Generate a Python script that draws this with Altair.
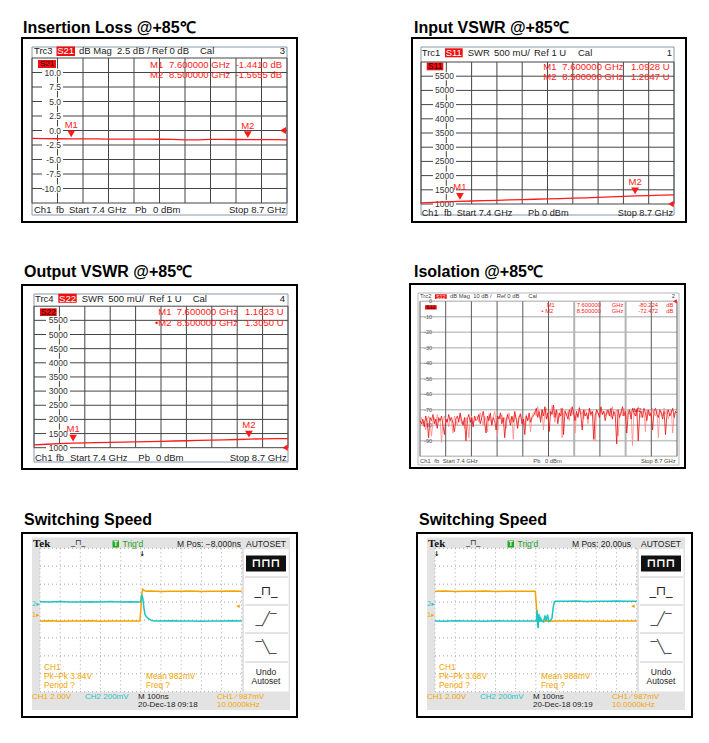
import altair as alt
import pandas as pd

O = 8            # page margin: page px -> chart px
W, H = 692, 726
F = "Liberation Sans"
RED = "#ff1a1a"
ORANGE = "#f4a300"
CYAN = "#1cc4c4"
TS = 9.5         # analyzer text size
LS = 8.5         # analyzer scale-label size

# ---------------- data ----------------
sweep_freq = [7.400, 7.465, 7.530, 7.595, 7.660, 7.725, 7.790, 7.855, 7.920, 7.985, 8.050,
              8.115, 8.180, 8.245, 8.310, 8.375, 8.440, 8.505, 8.570, 8.635, 8.700]
il_db = [-1.36, -1.39, -1.42, -1.44, -1.45, -1.46, -1.47, -1.48, -1.49, -1.50, -1.51,
         -1.52, -1.62, -1.60, -1.53, -1.54, -1.55, -1.57, -1.58, -1.59, -1.60]
in_swr_mu = [1040, 1058, 1075, 1092, 1105, 1118, 1130, 1142, 1155, 1168, 1180,
             1192, 1205, 1218, 1232, 1248, 1266, 1285, 1298, 1310, 1322]
out_swr_mu = [1098, 1122, 1142, 1162, 1172, 1181, 1190, 1199, 1208, 1218, 1227,
              1236, 1246, 1256, 1266, 1277, 1290, 1305, 1312, 1318, 1324]

marker_names = ["M1", "M2"]
marker_freq = [7.6, 8.5]
il_marker_db = [-1.4410, -1.5655]
in_marker_mu = [1092.8, 1284.7]
out_marker_mu = [1162.3, 1305.0]
iso_marker_db = [-80.224, -72.472]

il_ticks = [10.0, 7.5, 5.0, 2.5, 0.0, -2.5, -5.0, -7.5, -10.0]
il_grid = [-12.5, -10.0, -7.5, -5.0, -2.5, 0.0, 2.5, 5.0, 7.5, 10.0, 12.5]
swr_ticks = [1000, 1500, 2000, 2500, 3000, 3500, 4000, 4500, 5000, 5500]
swr_grid = [1000, 1500, 2000, 2500, 3000, 3500, 4000, 4500, 5000, 5500, 6000]
iso_ticks = [0, -10, -20, -30, -40, -50, -60, -70, -80, -90]
iso_grid = [0, -10, -20, -30, -40, -50, -60, -70, -80, -90, -100]
freq_grid = [7.40, 7.53, 7.66, 7.79, 7.92, 8.05, 8.18, 8.31, 8.44, 8.57, 8.70]

iso_db = [
    -77, -79, -76, -81, -74, -78, -88, -75, -77, -73, -79, -76, -82, -75, -77, -74, -80, -86, -76, -78,
    -73, -77, -75, -79, -84, -76, -74, -78, -72, -77, -80, -75, -90, -76, -73, -78, -75, -81, -74, -77,
    -76, -73, -79, -75, -71, -78, -85, -74, -77, -72, -80, -75, -77, -83, -74, -76, -72, -79, -75, -88,
    -77, -73, -76, -80, -74, -78, -71, -76, -82, -75, -73, -79, -76, -86, -74, -77, -72, -78, -75, -74,
    -72, -69, -75, -71, -78, -70, -74, -68, -76, -72, -84, -71, -73, -67, -75, -70, -79, -72, -74, -69,
    -86, -71, -73, -76, -70, -74, -68, -72, -77, -71, -75, -69, -73, -83, -70, -74, -72, -76, -69, -73,
    -71, -89, -74, -70, -72, -75, -68, -73, -71, -77, -72, -70, -74, -69, -76, -71, -73, -92, -70, -75,
    -72, -68, -74, -71, -85, -73, -70, -76, -69, -72, -74, -70, -90, -73, -71, -75, -69, -72, -77, -70,
    -74, -72, -83, -71, -69, -73, -75, -70, -72, -76, -71, -86, -73, -70, -74, -72, -69, -75, -71, -72]
iso_db_mem = [
    -78, -75, -80, -77, -83, -76, -74, -79, -87, -77, -75, -80, -73, -78, -76, -91, -77, -74, -79, -76,
    -81, -75, -78, -85, -74, -77, -80, -76, -73, -79, -77, -82, -75, -78, -88, -76, -74, -79, -77, -75,
    -74, -78, -72, -76, -80, -74, -77, -84, -73, -76, -79, -75, -71, -77, -87, -74, -76, -73, -78, -75,
    -82, -74, -72, -77, -75, -89, -73, -76, -79, -74, -72, -78, -75, -80, -73, -77, -75, -84, -74, -72,
    -71, -74, -68, -73, -76, -70, -83, -72, -69, -75, -71, -74, -67, -73, -78, -70, -72, -75, -69, -88,
    -72, -70, -74, -71, -77, -69, -73, -70, -85, -72, -74, -68, -73, -71, -76, -70, -72, -79, -69, -74,
    -71, -73, -90, -70, -72, -75, -69, -73, -71, -74, -70, -73, -71, -75, -68, -74, -72, -70, -87, -73,
    -71, -74, -69, -72, -76, -70, -73, -71, -93, -72, -70, -74, -68, -73, -75, -71, -72, -84, -70, -73,
    -71, -75, -69, -72, -74, -70, -88, -72, -71, -74, -69, -73, -70, -76, -72, -70, -85, -73, -71, -72]
iso_freq = [7.4 + i * 1.3 / (len(iso_db) - 1) for i in range(len(iso_db))]

scope_time_grid = [-500, -400, -300, -200, -100, 0, 100, 200, 300, 400, 500]
scope_div_grid = [-4, -3, -2, -1, 0, 1, 2, 3, 4]

# left scope (ns, divisions)
s1_ch1_t = [-500, -450, -400, -350, -300, -250, -200, -150, -100, -50, -5, 0, 5, 10, 15, 25, 50,
            100, 150, 200, 250, 300, 350, 400, 450, 500]
s1_ch1_v = [-0.06, -0.04, -0.07, -0.05, -0.06, -0.04, -0.07, -0.05, -0.06, -0.05, -0.05, 0.6, 1.5,
            1.72, 1.66, 1.60, 1.62, 1.59, 1.61, 1.60, 1.62, 1.59, 1.61, 1.60, 1.62, 1.60]
s1_ch2_t = [-500, -450, -400, -350, -300, -250, -200, -150, -100, -50, -3, 0, 4, 10, 16, 21, 30,
            40, 54, 70, 100, 150, 200, 250, 300, 350, 400, 450, 500]
s1_ch2_v = [1.02, 1.00, 1.03, 1.01, 1.00, 1.02, 1.01, 1.03, 1.00, 1.02, 1.01, 1.10, 1.42, 1.20,
            0.60, 0.28, 0.15, 0.06, -0.03, -0.05, -0.06, -0.04, -0.06, -0.05, -0.07, -0.05, -0.06,
            -0.04, -0.05]
# right scope
s2_ch1_t = [-500, -450, -400, -350, -300, -250, -200, -150, -100, -50, -3, 2, 6, 10, 25, 50,
            100, 150, 200, 250, 300, 350, 400, 450, 500]
s2_ch1_v = [1.60, 1.62, 1.59, 1.61, 1.60, 1.62, 1.59, 1.61, 1.60, 1.61, 1.60, 0.9, 0.1, -0.06,
            -0.05, -0.07, -0.05, -0.06, -0.04, -0.06, -0.05, -0.07, -0.05, -0.06, -0.05]
s2_ch2_t = [-500, -450, -400, -350, -300, -250, -200, -150, -100, -50, 3, 6, 9, 12, 15, 19, 24,
            30, 38, 45, 50, 58, 64, 72, 80, 86, 92, 100, 150, 200, 250, 300, 350, 400, 450, 500]
s2_ch2_v = [-0.05, -0.07, -0.04, -0.06, -0.05, -0.07, -0.04, -0.06, -0.05, -0.06, -0.05, 0.55,
            -0.30, -0.45, 0.35, -0.10, 0.10, -0.05, -0.10, 0.25, -0.05, 0.30, -0.08, -0.02, 0.10,
            0.70, 1.02, 1.05, 1.04, 1.06, 1.03, 1.05, 1.04, 1.06, 1.04, 1.05]

# ---------------- helpers ----------------
one = pd.DataFrame({"_": [0]})


def T(s, x, y, size=9.0, color="#000", weight="normal", align="left", font=F):
    return alt.Chart(one).mark_text(text=s, align=align, baseline="middle", fontSize=size,
                                    color=color, fontWeight=weight, font=font).encode(
        x=alt.value(x - O), y=alt.value(y - O))


def R(x1, y1, x2, y2, fill="white", stroke=None, sw=1.0):
    kw = dict(fill=fill, strokeWidth=sw if stroke else 0)
    if stroke:
        kw["stroke"] = stroke
    return alt.Chart(one).mark_rect(**kw).encode(
        x=alt.value(x1 - O), x2=alt.value(x2 - O), y=alt.value(y1 - O), y2=alt.value(y2 - O))


def HR(x1, x2, y, color="#c8c8c8", sw=1.0):
    return alt.Chart(one).mark_rule(color=color, strokeWidth=sw).encode(
        x=alt.value(x1 - O), x2=alt.value(x2 - O), y=alt.value(y - O))


def XS(d, a, b):
    return alt.Scale(domain=d, range=[a - O, b - O], nice=False, zero=False)


def YS(d, bottom, top):
    return alt.Scale(domain=d, range=[bottom - O, top - O], nice=False, zero=False)


def vgrid(xs, vals, top, bot, color, sw=1.0, dash=None):
    kw = dict(color=color, strokeWidth=sw)
    if dash:
        kw["strokeDash"] = dash
    return alt.Chart(pd.DataFrame({"f": vals})).mark_rule(**kw).encode(
        x=alt.X("f:Q", scale=xs, axis=None), y=alt.value(top - O), y2=alt.value(bot - O))


def hgrid(ys, vals, left, right, color, sw=1.0, dash=None):
    kw = dict(color=color, strokeWidth=sw)
    if dash:
        kw["strokeDash"] = dash
    return alt.Chart(pd.DataFrame({"v": vals})).mark_rule(**kw).encode(
        y=alt.Y("v:Q", scale=ys, axis=None), x=alt.value(left - O), x2=alt.value(right - O))


def ylabels(ys, vals, labels, xr, size, color, halo=None):
    out = []
    df = pd.DataFrame({"v": vals, "t": labels})
    if halo:
        out.append(alt.Chart(df).mark_rule(color="white", strokeWidth=halo[2]).encode(
            y=alt.Y("v:Q", scale=ys, axis=None), x=alt.value(halo[0] - O), x2=alt.value(halo[1] - O)))
    out.append(alt.Chart(df).mark_text(align="right", baseline="middle", fontSize=size,
                                       color=color, font=F).encode(
        y=alt.Y("v:Q", scale=ys, axis=None), x=alt.value(xr - O), text="t:N"))
    return out


def trace(xs, ys, xv, yv, color, sw, opacity=1.0):
    return alt.Chart(pd.DataFrame({"x": xv, "y": yv})).mark_line(
        color=color, strokeWidth=sw, opacity=opacity).encode(
        x=alt.X("x:Q", scale=xs, axis=None), y=alt.Y("y:Q", scale=ys, axis=None))


def markers(xs, ys, fv, yv, size=60, dy=-5, tdy=-14, fs=9.5):
    base = alt.Chart(pd.DataFrame({"x": fv, "y": yv, "n": marker_names})).encode(
        x=alt.X("x:Q", scale=xs, axis=None), y=alt.Y("y:Q", scale=ys, axis=None))
    return [base.mark_point(shape="triangle-down", filled=True, color=RED, opacity=1,
                            size=size, yOffset=dy),
            base.mark_text(color=RED, fontSize=fs, dy=tdy, font=F).encode(text="n:N")]


def refmark(xs, ys, xv, yv, size=50, xoff=-4):
    return alt.Chart(pd.DataFrame({"x": [xv], "y": [yv]})).mark_point(
        shape="triangle-left", filled=True, color=RED, opacity=1, size=size, xOffset=xoff).encode(
        x=alt.X("x:Q", scale=xs, axis=None), y=alt.Y("y:Q", scale=ys, axis=None))


layers = []

# ======================= Panel 1: Insertion Loss =======================
layers.append(T("Insertion Loss @+85℃", 23, 28, 16, weight="bold"))
layers.append(R(22, 38, 297, 222, "white", "black", 2))
layers.append(R(32, 47, 287, 215, "transparent", "#8796aa", 1))
xs1 = XS([7.4, 8.7], 32, 287)
ys1 = YS([-12.5, 12.5], 203, 58)
layers.append(vgrid(xs1, freq_grid, 58, 203, "#454545"))
layers.append(hgrid(ys1, il_grid, 32, 287, "#454545"))
layers += ylabels(ys1, il_ticks, [f"{v:.1f}" for v in il_ticks], 61, LS, "#333", (42, 63, 8))
layers.append(trace(xs1, ys1, sweep_freq, il_db, RED, 1.3))
layers += markers(xs1, ys1, marker_freq, il_marker_db)
layers.append(refmark(xs1, ys1, 8.7, 0.0))
layers.append(R(56.5, 46.5, 75, 56, "#ee1111"))
layers.append(T("S21", 65.7, 51.3, TS, "white", align="center"))
layers.append(R(38, 60, 56, 68, "#ee1111"))
layers.append(T("S21", 47, 64, 8, "#2a0000", align="center"))
for s, x, a in [("Trc3", 34, "left"), ("dB Mag", 79, "left"), ("2.5 dB /", 117, "left"),
                ("Ref 0 dB", 152, "left"), ("Cal", 200, "left"), ("3", 285, "right")]:
    layers.append(T(s, x, 51.3, TS, "#222", align=a))
for s, x, a in [("Ch1", 34, "left"), ("fb", 56, "left"), ("Start  7.4 GHz", 69, "left"),
                ("Pb", 135, "left"), ("0 dBm", 153, "left"), ("Stop  8.7 GHz", 286, "right")]:
    layers.append(T(s, x, 210, TS, "#222", align=a))
for i, yy in enumerate([65, 75]):
    layers.append(T(marker_names[i], 150, yy, TS, RED))
    layers.append(T(f"{marker_freq[i]:.6f} GHz", 169, yy, TS, RED))
    layers.append(T(f"{il_marker_db[i]:.4f} dB", 282, yy, TS, RED, align="right"))

# ======================= Panel 2: Input VSWR =======================
layers.append(T("Input VSWR @+85℃", 414, 28, 16, weight="bold"))
layers.append(R(412, 38, 686, 222, "white", "black", 2))
layers.append(R(421, 47, 674, 215, "transparent", "#8796aa", 1))
xs2 = XS([7.4, 8.7], 421, 674)
ys2 = YS([1000, 6000], 204, 62)
layers.append(vgrid(xs2, freq_grid, 62, 204, "#454545"))
layers.append(hgrid(ys2, swr_grid, 421, 674, "#454545"))
layers += ylabels(ys2, swr_ticks, [str(v) for v in swr_ticks], 454, LS, "#333", (433, 456, 8))
layers.append(trace(xs2, ys2, sweep_freq, in_swr_mu, RED, 1.3))
layers += markers(xs2, ys2, marker_freq, in_marker_mu)
layers.append(refmark(xs2, ys2, 8.7, 1000, 40, -3))
layers.append(R(445, 48.3, 462.7, 57.3, "#ee1111"))
layers.append(T("S11", 453.8, 52.8, TS, "white", align="center"))
layers.append(R(426.7, 62.5, 443.3, 70.3, "#ee1111"))
layers.append(T("S11", 435, 66.4, 8.5, "#2a0000", align="center"))
for s, x, a in [("Trc1", 421.7, "left"), ("SWR", 467.7, "left"), ("500 mU/", 494, "left"),
                ("Ref 1 U", 534, "left"), ("Cal", 578, "left"), ("1", 672, "right")]:
    layers.append(T(s, x, 52.8, TS, "#222", align=a))
for s, x, a in [("Ch1", 421.7, "left"), ("fb", 444, "left"), ("Start  7.4 GHz", 456.7, "left"),
                ("Pb", 528, "left"), ("0 dBm", 542, "left"), ("Stop  8.7 GHz", 673, "right")]:
    layers.append(T(s, x, 213.3, 9.2, "#222", align=a))
for i, yy in enumerate([66.7, 77.3]):
    layers.append(T(marker_names[i], 543.3, yy, TS, RED))
    layers.append(T(f"{marker_freq[i]:.6f} GHz", 562.3, yy, TS, RED))
    layers.append(T(f"{in_marker_mu[i] / 1000:.4f} U", 669.5, yy, TS, RED, align="right"))

# ======================= Panel 3: Output VSWR =======================
layers.append(T("Output VSWR @+85℃", 24, 272, 16, weight="bold"))
layers.append(R(22, 285, 297, 469, "white", "black", 2))
layers.append(R(34, 294, 288, 462, "transparent", "#8796aa", 1))
xs3 = XS([7.4, 8.7], 34, 288)
ys3 = YS([1000, 6000], 447.7, 306.2)
layers.append(vgrid(xs3, freq_grid, 306.2, 447.7, "#454545"))
layers.append(hgrid(ys3, swr_grid, 34, 288, "#454545"))
layers += ylabels(ys3, swr_ticks, [str(v) for v in swr_ticks], 67.7, LS, "#333", (46, 70, 8))
layers.append(trace(xs3, ys3, sweep_freq, out_swr_mu, RED, 1.3))
layers += markers(xs3, ys3, marker_freq, out_marker_mu)
layers.append(refmark(xs3, ys3, 8.7, 1000, 40, -3))
layers.append(R(58.3, 293.8, 76.7, 302.8, "#ee1111"))
layers.append(T("S22", 67.5, 298.7, TS, "white", align="center"))
layers.append(R(40, 308.3, 56.7, 316, "#ee1111"))
layers.append(T("S22", 48.3, 312.2, 8.5, "#2a0000", align="center"))
for s, x, a in [("Trc4", 35, "left"), ("SWR", 81.7, "left"), ("500 mU/", 108.3, "left"),
                ("Ref 1 U", 149.3, "left"), ("Cal", 192.7, "left"), ("4", 285, "right")]:
    layers.append(T(s, x, 298.7, TS, "#222", align=a))
for s, x, a in [("Ch1", 35, "left"), ("fb", 56, "left"), ("Start  7.4 GHz", 70, "left"),
                ("Pb", 138.3, "left"), ("0 dBm", 156, "left"), ("Stop  8.7 GHz", 286.7, "right")]:
    layers.append(T(s, x, 457.5, TS, "#222", align=a))
for i, yy in enumerate([312, 322.7]):
    layers.append(T(("" if i == 0 else "•") + marker_names[i], 158.3 if i == 0 else 155, yy, TS, RED))
    layers.append(T(f"{marker_freq[i]:.6f} GHz", 176.7, yy, TS, RED))
    layers.append(T(f"{out_marker_mu[i] / 1000:.4f} U", 283.5, yy, TS, RED, align="right"))

# ======================= Panel 4: Isolation =======================
layers.append(T("Isolation @+85℃", 414, 272, 16, weight="bold"))
layers.append(R(410, 284, 685, 468, "white", "black", 2))
layers.append(R(418, 293, 679, 465, "transparent", "#b8b8b8", 1))
xs4 = XS([7.4, 8.7], 420, 677)
ys4 = YS([-100, 0], 456.3, 301.3)
layers.append(hgrid(ys4, iso_grid, 420, 677, "#c4c4c4", 1.6))
layers.append(vgrid(xs4, [f for i, f in enumerate(freq_grid) if i not in (6, 8)], 301.3, 456.3, "#5a5a5a", 1))
layers.append(vgrid(xs4, [freq_grid[6], freq_grid[8]], 301.3, 456.3, "#b4b4b4", 2))
layers += ylabels(ys4, iso_ticks, [str(v) for v in iso_ticks], 432, 5.5, "#555")
layers.append(trace(xs4, ys4, iso_freq, iso_db_mem, "#ff8a8a", 0.9, 0.9))
layers.append(trace(xs4, ys4, iso_freq, iso_db, "#e81010", 0.8))
layers.append(alt.Chart(pd.DataFrame({"x": [marker_freq[1]], "y": [iso_marker_db[1]], "n": ["M2"]}))
              .mark_text(color="#cc0000", fontSize=6, dy=-4, font=F)
              .encode(x=alt.X("x:Q", scale=xs4, axis=None), y=alt.Y("y:Q", scale=ys4, axis=None),
                      text="n:N"))
layers.append(refmark(xs4, ys4, 8.7, 0, 18, -2))
layers.append(R(435, 294.3, 446.7, 298.9, "#ee1111"))
layers.append(T("S12", 440.8, 296.6, 5, "white", align="center"))
layers.append(R(425, 305.3, 436.7, 309.5, "#ee1111"))
layers.append(T("S12", 430.8, 307.4, 5, "#2a0000", align="center"))
for s, x, a in [("Trc2", 420, "left"), ("dB Mag", 450, "left"), ("10 dB /", 473.3, "left"),
                ("Ref 0 dB", 496.7, "left"), ("Cal", 528.3, "left"), ("2", 675, "right")]:
    layers.append(T(s, x, 296.4, 5.8, "#444", align=a))
for s, x, a in [("Ch1", 420, "left"), ("fb", 434.3, "left"), ("Start  7.4 GHz", 442.7, "left"),
                ("Pb", 533.3, "left"), ("0 dBm", 545, "left"), ("Stop  8.7 GHz", 675.7, "right")]:
    layers.append(T(s, x, 461.3, 5.8, "#444", align=a))
for i, yy in enumerate([305.3, 311]):
    layers.append(T(("" if i == 0 else "• ") + marker_names[i], 546.7 if i == 0 else 541.5, yy, 5.8, RED))
    layers.append(T(f"{marker_freq[i]:.6f}", 576.7, yy, 5.8, RED))
    layers.append(T("GHz", 611.7, yy, 5.8, RED))
    layers.append(T(f"{iso_marker_db[i]:.3f}", 638.3, yy, 5.8, RED))
    layers.append(T("dB", 673.3, yy, 5.8, RED, align="right"))


# ======================= Panels 5/6: Switching Speed =======================
def scope(dx, c1t, c1v, c2t, c2v, mpos, pkpk, mean, clock, trig_x):
    L = []
    L.append(T("Switching Speed", 24 + dx, 520, 16, weight="bold"))
    L.append(R(22 + dx, 533, 297 + dx, 717, "white", "black", 2))
    L.append(R(32 + dx, 537.5, 290 + dx, 710, "#e3e3e3"))
    L.append(R(40 + dx, 548.3, 241.7 + dx, 691.7, "white"))
    L.append(R(244 + dx, 549, 288.5 + dx, 691.5, "white"))
    xs = XS([-500, 500], 40 + dx, 241.7 + dx)
    ys = YS([-4, 4], 691.7, 548.3)
    L.append(vgrid(xs, scope_time_grid, 548.3, 691.7, "#a8a8a8", 1, [1, 3]))
    L.append(hgrid(ys, scope_div_grid, 40 + dx, 241.7 + dx, "#a8a8a8", 1, [1, 3]))
    L.append(trace(xs, ys, c1t, c1v, ORANGE, 1.5))
    L.append(trace(xs, ys, c2t, c2v, CYAN, 1.5))
    # top bar
    L.append(T("Tek", 33 + dx, 543.5, 11, "#111", "bold", font="Liberation Serif"))
    L.append(T("_⊓_", 71 + dx, 543, 8, "#333", font="DejaVu Sans"))
    L.append(R(112.5 + dx, 540.5, 119 + dx, 547.5, "#22aa22"))
    L.append(T("T", 115.8 + dx, 544.2, 6.5, "white", "bold", align="center"))
    L.append(T("Trig'd", 122.5 + dx, 544, 8.5, "#22a022"))
    L.append(T(mpos, 177 + dx, 544, 8.5, "#222"))
    L.append(T("AUTOSET", 266 + dx, 543.5, 8.5, "#222", align="center"))
    L.append(T("↓", trig_x, 553.5, 7, "#111", "bold", align="center", font="DejaVu Sans"))
    # channel markers
    L.append(T("2▸", 32 + dx, 604, 6.5, CYAN, font="DejaVu Sans"))
    L.append(T("1▸", 32 + dx, 615, 6.5, ORANGE, font="DejaVu Sans"))
    L.append(T("◂", 238 + dx, 606, 7, ORANGE, align="center", font="DejaVu Sans"))
    # menu column
    L.append(R(246 + dx, 555.5, 286 + dx, 571.5, "#111"))
    L.append(T("⊓⊓⊓", 266 + dx, 563, 12, "white", "bold", align="center", font="DejaVu Sans"))
    L.append(T("_⊓_", 266 + dx, 591, 13, "#222", align="center", font="DejaVu Sans"))
    L.append(T("_╱‾", 266 + dx, 619, 13, "#444", align="center", font="DejaVu Sans"))
    L.append(T("‾╲_", 266 + dx, 647, 13, "#444", align="center", font="DejaVu Sans"))
    for yy in [577, 605, 633, 662]:
        L.append(HR(245 + dx, 288 + dx, yy))
    L.append(T("Undo", 266 + dx, 672, 8.5, "#222", align="center"))
    L.append(T("Autoset", 266 + dx, 681, 8.5, "#222", align="center"))
    # measurements
    L.append(T("CH1", 44 + dx, 668, 8.3, ORANGE))
    L.append(T(f"Pk–Pk {pkpk}", 44 + dx, 677, 8.3, ORANGE))
    L.append(T("Period ?", 44 + dx, 685.5, 8.3, ORANGE))
    L.append(T(f"Mean {mean}", 146 + dx, 677, 8.3, ORANGE))
    L.append(T("Freq ?", 146 + dx, 685.5, 8.3, ORANGE))
    # status bar
    L.append(T("CH1  2.00V", 32 + dx, 696.5, 8, ORANGE))
    L.append(T("CH2  200mV", 85 + dx, 696.5, 8, CYAN))
    L.append(T("M 100ns", 138 + dx, 696.5, 8, "#222"))
    L.append(T(clock, 138 + dx, 705.2, 8, "#222"))
    L.append(T("CH1 ⁄ 987mV", 217 + dx, 696.5, 8, ORANGE))
    L.append(T("10.0000kHz", 217 + dx, 705.2, 8, ORANGE))
    return L


layers += scope(0, s1_ch1_t, s1_ch1_v, s1_ch2_t, s1_ch2_v, "M Pos: −8.000ns", "3.84V", "982mV",
                "20-Dec-18 09:18", 142.3)
layers += scope(395, s2_ch1_t, s2_ch1_v, s2_ch2_t, s2_ch2_v, "M Pos: 20.00us", "3.68V", "988mV",
                "20-Dec-18 09:19", 436.7)

chart = alt.layer(*layers).resolve_scale(x="independent", y="independent").properties(
    width=W, height=H, padding=0, autosize=alt.AutoSizeParams(type="none"),
    background="white").configure_view(stroke=None)

chart.save("out.html", embed_options={"renderer": "svg", "actions": False})
